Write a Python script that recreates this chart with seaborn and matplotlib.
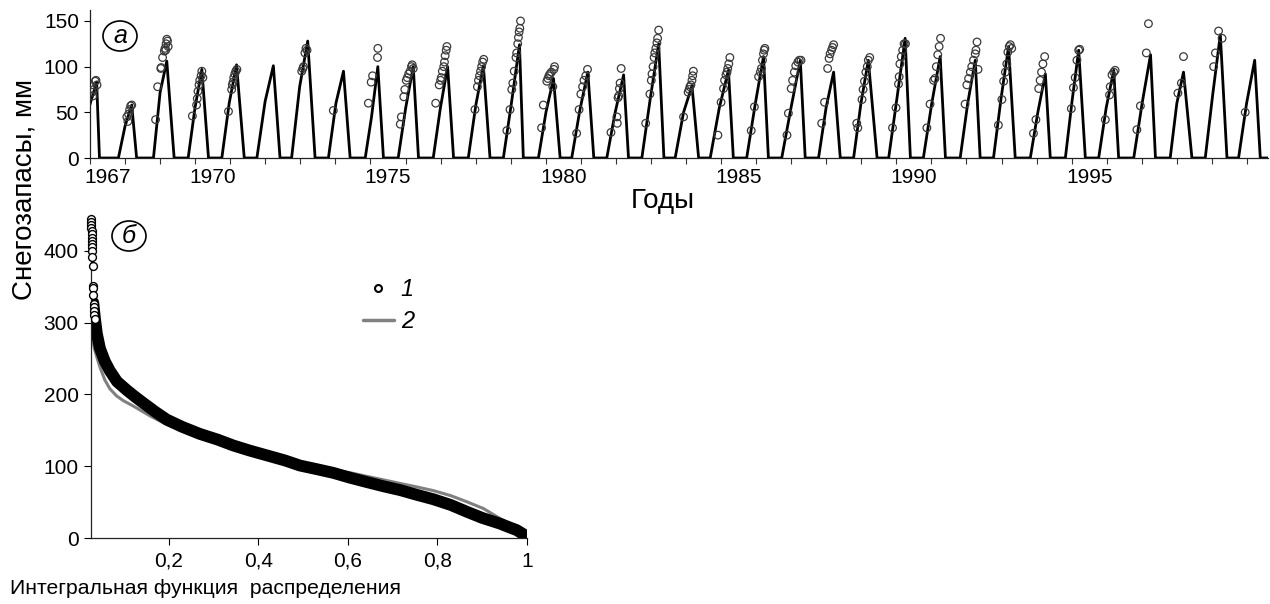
import numpy as np
import pandas as pd
import matplotlib
matplotlib.use("Agg")
import matplotlib.pyplot as plt
from matplotlib.lines import Line2D
from matplotlib.patches import Ellipse
import seaborn as sns

# ==========================================
# Panel (а): modelled snow storage, one row per winter
# ==========================================
season_start = [1966.75, 1967.81, 1968.81, 1969.80, 1970.76, 1971.76, 1972.75, 1973.80,
                1974.85, 1975.79, 1976.79, 1977.79, 1978.79, 1979.79, 1980.74, 1981.74,
                1982.74, 1983.69, 1984.69, 1985.73, 1986.73, 1987.78, 1988.78, 1989.78,
                1990.77, 1991.82, 1992.77, 1993.82, 1994.82, 1995.77, 1996.77, 1997.81,
                1998.81, 1999.76]
mid_swe = [55, 35, 72, 55, 60, 62, 78, 60, 45, 55, 55, 58, 60, 50, 52, 50, 65,
           50, 55, 58, 55, 55, 60, 65, 60, 60, 65, 50, 62, 55, 60, 60, 70, 60]
peak_date = [1967.19, 1968.19, 1969.19, 1970.19, 1971.18, 1972.23, 1973.21, 1974.23,
             1975.21, 1976.22, 1977.20, 1978.22, 1979.25, 1980.22, 1981.20, 1982.22,
             1983.22, 1984.17, 1985.21, 1986.21, 1987.26, 1988.21, 1989.20, 1990.25,
             1991.25, 1992.25, 1993.20, 1994.25, 1995.20, 1996.20, 1997.25, 1998.19,
             1999.24, 2000.22]
peak_swe = [83, 58, 106, 97, 102, 101, 128, 95, 100, 100, 100, 101, 124, 87, 94, 91, 125,
            79, 96, 111, 107, 94, 107, 131, 111, 107, 122, 92, 118, 96, 113, 94, 135, 107]
melt_end = [1967.27, 1968.33, 1969.40, 1970.38, 1971.40, 1972.42, 1973.42, 1974.42,
            1975.37, 1976.37, 1977.37, 1978.41, 1979.36, 1980.41, 1981.37, 1982.36,
            1983.37, 1984.36, 1985.35, 1986.35, 1987.40, 1988.40, 1989.45, 1990.40,
            1991.40, 1992.39, 1993.39, 1994.39, 1995.39, 1996.34, 1997.39, 1998.43,
            1999.43, 2000.38]
series_end = 2000.6

# observed snow surveys (circles)
obs_year = [1967.06, 1967.09, 1967.11, 1967.15, 1967.17, 1967.20,
            1968.05, 1968.08, 1968.10, 1968.13, 1968.16, 1968.19,
            1968.87, 1968.93, 1969.02, 1969.03, 1969.07, 1969.12, 1969.14, 1969.16, 1969.17, 1969.19, 1969.21, 1969.23,
            1969.92, 1970.04, 1970.06, 1970.08, 1970.11, 1970.13, 1970.17, 1970.19, 1970.22,
            1970.95, 1971.04, 1971.06, 1971.08, 1971.10, 1971.13, 1971.16, 1971.19,
            1973.04, 1973.07, 1973.09, 1973.13, 1973.16, 1973.19,
            1973.94,
            1974.94, 1975.02, 1975.06, 1975.20, 1975.21,
            1975.85, 1975.88, 1975.95, 1975.98, 1976.02, 1976.05, 1976.09, 1976.13, 1976.17, 1976.19, 1976.22,
            1976.86, 1976.96, 1977.00, 1977.02, 1977.05, 1977.09, 1977.11, 1977.13, 1977.16, 1977.18,
            1977.98, 1978.05, 1978.08, 1978.11, 1978.14, 1978.17, 1978.20, 1978.23,
            1978.89, 1978.98, 1979.03, 1979.06, 1979.10, 1979.15, 1979.17, 1979.20, 1979.22, 1979.24, 1979.26, 1979.28,
            1979.88, 1979.93, 1980.03, 1980.06, 1980.09, 1980.12, 1980.16, 1980.20, 1980.23, 1980.25,
            1980.88, 1980.95, 1981.00, 1981.05, 1981.09, 1981.14, 1981.19,
            1981.86, 1982.03, 1982.04, 1982.06, 1982.08, 1982.10, 1982.12, 1982.15,
            1982.85, 1982.97, 1983.01, 1983.03, 1983.06, 1983.09, 1983.11, 1983.14, 1983.17, 1983.19, 1983.22,
            1983.93, 1984.06, 1984.09, 1984.11, 1984.14, 1984.17, 1984.19, 1984.21,
            1984.91, 1985.00, 1985.07, 1985.10, 1985.14, 1985.17, 1985.19, 1985.22, 1985.25,
            1985.86, 1985.95, 1986.07, 1986.12, 1986.15, 1986.18, 1986.21, 1986.23, 1986.25,
            1986.88, 1986.92, 1987.00, 1987.04, 1987.09, 1987.13, 1987.19, 1987.23, 1987.28,
            1987.87, 1987.95, 1988.04, 1988.08, 1988.11, 1988.15, 1988.18, 1988.21,
            1988.87, 1988.90, 1989.02, 1989.05, 1989.09, 1989.13, 1989.17, 1989.20, 1989.24,
            1989.89, 1989.99, 1990.06, 1990.08, 1990.10, 1990.14, 1990.18, 1990.22, 1990.26,
            1990.87, 1990.96, 1991.06, 1991.10, 1991.14, 1991.18, 1991.22, 1991.26,
            1991.96, 1992.01, 1992.06, 1992.11, 1992.15, 1992.20, 1992.25, 1992.27, 1992.30, 1992.33,
            1992.91, 1993.01, 1993.06, 1993.11, 1993.15, 1993.18, 1993.22, 1993.25, 1993.29,
            1993.91, 1993.98, 1994.06, 1994.10, 1994.14, 1994.18, 1994.23,
            1994.99, 1995.05, 1995.10, 1995.15, 1995.20, 1995.23,
            1995.96, 1996.08, 1996.10, 1996.15, 1996.20, 1996.24,
            1996.86, 1996.96, 1997.13, 1997.19,
            1998.03, 1998.13, 1998.19,
            1999.05, 1999.10, 1999.19, 1999.29,
            1999.95]
obs_swe = [72, 68, 75, 84, 85, 80,
           45, 40, 48, 53, 57, 58,
           42, 78, 98, 99, 110, 117, 120, 118, 125, 130, 128, 122,
           46, 58, 65, 73, 80, 85, 90, 95, 88,
           51, 75, 80, 83, 88, 92, 95, 97,
           95, 98, 100, 115, 120, 118,
           52,
           60, 83, 90, 110, 120,
           37, 45, 67, 75, 85, 88, 92, 95, 100, 102, 98,
           60, 80, 85, 88, 95, 100, 105, 112, 118, 122,
           53, 78, 85, 90, 95, 100, 105, 108,
           30, 53, 75, 82, 95, 110, 115, 125, 132, 138, 142, 150,
           33, 58, 84, 87, 90, 92, 94, 78, 97, 100,
           27, 53, 70, 78, 85, 90, 97,
           28, 45, 38, 66, 68, 76, 82, 98,
           38, 70, 85, 92, 100, 110, 115, 120, 126, 131, 140,
           45, 72, 75, 78, 80, 85, 90, 95,
           25, 61, 76, 85, 91, 94, 98, 103, 110,
           30, 56, 89, 94, 98, 107, 114, 118, 120,
           25, 49, 76, 85, 94, 101, 105, 107, 107,
           38, 61, 98, 109, 114, 118, 121, 124,
           38, 33, 64, 75, 84, 94, 100, 107, 110,
           33, 55, 81, 89, 103, 111, 118, 125, 125,
           33, 59, 85, 87, 100, 113, 122, 131,
           59, 80, 87, 94, 100, 107, 114, 118, 127, 97,
           36, 64, 84, 94, 103, 116, 122, 124, 120,
           27, 42, 76, 85, 94, 103, 111,
           54, 77, 88, 107, 118, 119,
           42, 69, 78, 91, 94, 96,
           31, 57, 115, 147,
           71, 82, 111,
           100, 115, 139, 131,
           50]

year_ticks = list(range(1967, 2001))
label_years = [1967, 1970, 1975, 1980, 1985, 1990, 1995]

# ==========================================
# Panel (б): exceedance curves
# ==========================================
band_prob = [0.032, 0.036, 0.040, 0.047, 0.058, 0.069, 0.085, 0.107, 0.125, 0.144, 0.170,
             0.196, 0.230, 0.270, 0.310, 0.344, 0.380, 0.420, 0.460, 0.493, 0.530, 0.568,
             0.605, 0.642, 0.680, 0.717, 0.755, 0.791, 0.830, 0.866, 0.900, 0.940, 0.960,
             0.977, 0.990, 1.000]
band_swe = [328, 305, 285, 264, 246, 233, 218, 206, 197, 188, 176, 165, 155, 145, 137, 129,
            122, 115, 108, 101, 96, 90.7, 84, 78, 72, 66.7, 60, 54, 46, 36.5, 28, 20, 15,
            11, 6, 2]
tail_prob = [0.0275, 0.0275, 0.028, 0.028, 0.0285, 0.0285, 0.029, 0.029, 0.0295, 0.0295,
             0.030, 0.030, 0.031, 0.0315, 0.032, 0.032, 0.033, 0.033, 0.034, 0.034, 0.035]
tail_swe = [444, 440, 436, 432, 428, 423, 418, 414, 409, 405, 400, 391, 379, 351, 348,
            338, 326, 322, 316, 310, 305]
model_prob = [0.027, 0.030, 0.034, 0.040, 0.047, 0.058, 0.069, 0.084, 0.100, 0.121, 0.140,
              0.159, 0.196, 0.233, 0.270, 0.310, 0.344, 0.380, 0.420, 0.460, 0.493, 0.530,
              0.568, 0.605, 0.642, 0.680, 0.717, 0.755, 0.791, 0.830, 0.866, 0.903, 0.940,
              0.960, 0.977, 0.990, 1.000]
model_swe = [296, 280, 265, 252, 238, 220, 208, 198, 191, 184, 177, 170, 158, 149, 142, 136,
             129, 122, 115, 108, 102, 98, 95, 91, 86, 81, 76, 71, 66, 59, 50.4, 41, 27, 19,
             11, 5, 2]
prob_ticks = [0.2, 0.4, 0.6, 0.8, 1.0]
prob_labels = ["0,2", "0,4", "0,6", "0,8", "1"]

# ==========================================
# Build the model line table from the season rows
# ==========================================
rows = []
for s, m, pt, pv, e in zip(season_start, mid_swe, peak_date, peak_swe, melt_end):
    rows += [(s, 0.0), ((s + pt) / 2, m), (pt, pv), (e, 0.0)]
rows.append((series_end, 0.0))
model_df = pd.DataFrame(rows, columns=["year", "swe"])
obs_df = pd.DataFrame({"year": obs_year, "swe": obs_swe})

sns.set_theme(style="ticks")
plt.rcParams["font.family"] = ["Liberation Sans", "DejaVu Sans"]
plt.rcParams.update({"text.color": "black", "xtick.color": "black",
                     "ytick.color": "black", "axes.labelcolor": "black"})

W, H = 1270, 604
fig = plt.figure(figsize=(W / 100, H / 100), dpi=100)
ax1 = fig.add_axes([90 / W, 446 / H, 1178 / W, 148 / H])
ax2 = fig.add_axes([91 / W, 66 / H, 436 / W, 323 / H])

# --- top panel
sns.lineplot(data=model_df, x="year", y="swe", sort=False, estimator=None,
             color="black", lw=2.0, ax=ax1)
sns.scatterplot(data=obs_df, x="year", y="swe", marker="o", s=30,
                facecolor="none", edgecolor="#3a3a3a", linewidth=0.9, ax=ax1, zorder=3)
ax1.set_xlim(1967.0, series_end)
ax1.set_ylim(0, 162)
ax1.set_yticks([0, 50, 100, 150])
ax1.set_xticks(year_ticks)
ax1.set_xticklabels([])
ax1.set_xticks([y + 0.5 for y in label_years], minor=True)
ax1.set_xticklabels([str(y) for y in label_years], minor=True)
ax1.tick_params(axis="x", which="major", length=4, width=0.8, direction="out", color="#333333")
ax1.tick_params(axis="x", which="minor", length=0, pad=7, labelsize=15, labelcolor="black")
ax1.tick_params(axis="y", length=4, width=0.8, pad=4, labelsize=15, labelcolor="black")
ax1.set_xlabel("")
ax1.set_ylabel("")
sns.despine(ax=ax1)

# --- bottom panel
sns.lineplot(x=model_prob, y=model_swe, sort=False, estimator=None,
             color="#808080", lw=2.2, ax=ax2)
sns.lineplot(x=band_prob, y=band_swe, sort=False, estimator=None,
             color="black", lw=8.5, ax=ax2, solid_capstyle="round")
sns.scatterplot(x=tail_prob, y=tail_swe, marker="o", s=32, facecolor="white",
                edgecolor="black", linewidth=1.0, ax=ax2, zorder=4, clip_on=False)
ax2.set_xlim(0.027, 1.0)
ax2.set_ylim(0, 450)
ax2.set_yticks([0, 100, 200, 300, 400])
ax2.set_xticks(prob_ticks)
ax2.set_xticklabels(prob_labels)
ax2.tick_params(axis="x", length=5, width=0.8, pad=5, labelsize=15, labelcolor="black")
ax2.tick_params(axis="y", length=5, width=0.8, pad=4, labelsize=15, labelcolor="black")
sns.despine(ax=ax2)

for ax in (ax1, ax2):
    for sp in ax.spines.values():
        sp.set_linewidth(0.9)
        sp.set_color("#222222")

handles = [Line2D([], [], marker="o", ls="", mfc="white", mec="black", mew=1.5, ms=5),
           Line2D([], [], color="#808080", lw=2.5)]
leg = ax2.legend(handles, ["1", "2"], loc="upper left", bbox_to_anchor=(0.624, 0.805),
                 frameon=False, fontsize=17, handlelength=1.3, handletextpad=0.3,
                 labelspacing=0.4, borderpad=0, borderaxespad=0)
for t in leg.get_texts():
    t.set_style("italic")
    t.set_color("black")

# --- panel labels and axis titles
for cx, cy, letter in [(120, 36, "а"), (129, 236, "б")]:
    fig.patches.append(Ellipse((cx / W, 1 - cy / H), 34 / W, 30 / H, transform=fig.transFigure,
                               fc="white", ec="black", lw=1.2))
    fig.text(cx / W, 1 - cy / H, letter, style="italic", fontsize=18, ha="center", va="center")

fig.text(25 / W, 1 - 190 / H, "Снегозапасы, мм", rotation=90, ha="center", va="center",
         fontsize=20)
fig.text(663 / W, 1 - 201 / H, "Годы", ha="center", va="center", fontsize=20)
fig.text(10 / W, 1 - 588 / H, "Интегральная функция  распределения", ha="left", va="center",
         fontsize=15.2)

fig.savefig("out.png", dpi=100)
